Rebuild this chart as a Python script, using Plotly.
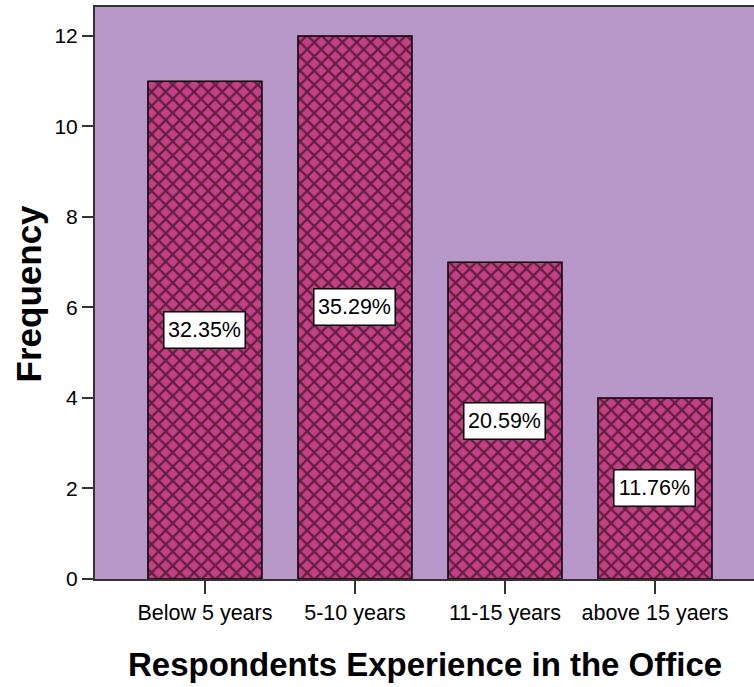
import plotly.graph_objects as go

categories = ["Below 5 years", "5-10 years", "11-15 years", "above 15 yaers"]
frequency = [11, 12, 7, 4]
percent_labels = ["32.35%", "35.29%", "20.59%", "11.76%"]
y_ticks = [0, 2, 4, 6, 8, 10, 12]

BAR = "#C43F84"
BG = "#B898C9"
FONT = "Liberation Sans, Arial, sans-serif"

fig = go.Figure()
fig.add_trace(go.Bar(
    x=list(range(len(categories))),
    y=frequency,
    width=0.76,
    marker=dict(
        color=BAR,
        line=dict(color="black", width=1.5),
        pattern=dict(shape="x", fgcolor="black", bgcolor=BAR, size=10, solidity=0.4),
    ),
    hoverinfo="skip",
))

for i, (v, lab) in enumerate(zip(frequency, percent_labels)):
    fig.add_annotation(
        x=i, y=v / 2, xref="x", yref="y", text=lab, showarrow=False,
        font=dict(family=FONT, size=21.5, color="black"),
        bgcolor="white", bordercolor="black", borderwidth=1.5, borderpad=2,
        width=76, height=31,
    )

fig.add_annotation(
    x=-0.101, y=0.5, xref="paper", yref="paper", text="<b>Frequency</b>",
    showarrow=False, textangle=-90, xanchor="center", yanchor="middle",
    font=dict(family=FONT, size=35, color="black"),
)
fig.add_annotation(
    x=0.5, y=-0.150, xref="paper", yref="paper",
    text="<b>Respondents Experience in the Office</b>",
    showarrow=False, xanchor="center", yanchor="middle",
    font=dict(family=FONT, size=33, color="black"),
)

fig.update_layout(
    width=754, height=687,
    margin=dict(l=95, r=0, t=7, b=108),
    paper_bgcolor="white",
    plot_bgcolor=BG,
    showlegend=False,
    xaxis=dict(
        range=[-0.733, 3.66],
        tickmode="array", tickvals=list(range(len(categories))), ticktext=categories,
        ticks="outside", ticklen=13, tickcolor="#333", tickwidth=2,
        showline=True, linecolor="#333", linewidth=2, mirror=True,
        showgrid=False, zeroline=False,
        tickfont=dict(family=FONT, size=21.5, color="black"),
    ),
    yaxis=dict(
        range=[0, 12.64],
        tickmode="array", tickvals=y_ticks,
        ticks="outside", ticklen=11, tickcolor="#333", tickwidth=2,
        showline=True, linecolor="#333", linewidth=2,
        showgrid=False, zeroline=False,
        tickfont=dict(family=FONT, size=21, color="black"),
    ),
)

fig.write_html("out.html")
